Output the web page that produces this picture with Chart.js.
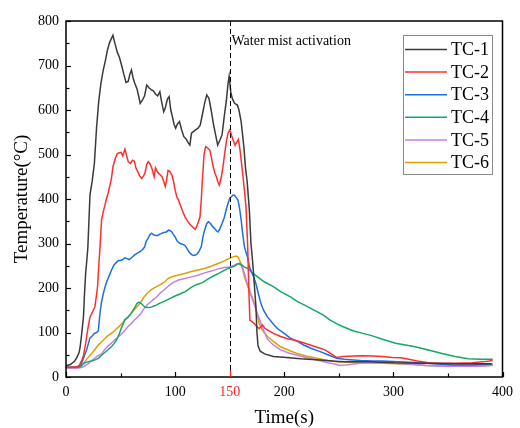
<!DOCTYPE html>
<html><head><meta charset="utf-8">
<script src="https://cdn.jsdelivr.net/npm/chart.js@4/dist/chart.umd.min.js"></script>
<style>html,body{margin:0;padding:0;background:#fff}</style>
</head><body>
<canvas id="c" width="520" height="428"></canvas>
<script>
// ---- data (time s, temperature °C) ----
const seriesNames = ['TC-1','TC-2','TC-3','TC-4','TC-5','TC-6'];
const xTickLabels = [0,100,150,200,300,400];
const yTickLabels = [0,100,200,300,400,500,600,700,800];
const markTime = 150;
const markText = 'Water mist activation';

const tc1 = [[0,25],[4,28],[8,36],[10,44],[12,55],[13,68],[14.5,100],[16,135],[17,190],[18,233],[19,260],[20,290],[21,350],[22,410],[24,440],[26,480],[28,560],[30,620],[32,660],[34,688],[36,710],[38,735],[40,752],[43,768],[45,748],[47,730],[49,718],[51,700],[53,680],[55,662],[57,664],[58.5,680],[60,690],[61.5,672],[63,660],[65,648],[66.5,632],[68,615],[70,622],[72,632],[74,656],[76,650],[78,646],[80,643],[82,636],[84,632],[86,641],[87.5,620],[89.5,596],[91,605],[93,625],[94.5,630],[96,600],[97.5,585],[99,568],[100.5,559],[102,568],[104,574],[106,555],[108,540],[110,535],[112,526],[113.5,521],[115,548],[117,552],[119,556],[121,559],[123,566],[125,590],[127,615],[129,634],[131,626],[133,600],[135,570],[137,545],[139,521],[141,532],[143,544],[145,585],[147,622],[148.5,660],[149.5,676],[151,640],[152.5,625],[154.5,615],[157,611],[158.5,600],[160.5,574],[163,517],[164.5,470],[166,440],[168,375],[169.5,300],[171,260],[172.5,210],[174,160],[175,99],[176,70],[178,58],[182,52],[190,46],[202,44],[215,41],[233,38],[250,35],[257,34],[278,34],[300,32],[330,31],[360,30],[390,30]];
const tc2 = [[0,22],[5,22],[10,23],[12,26],[13,30],[14.5,38],[16,48],[18,75],[19.5,100],[20.5,115],[22,135],[23.5,142],[25,150],[26.5,158],[28,185],[29,205],[30,250],[31,285],[32.6,353],[34,370],[35.6,385],[37,400],[38.6,413],[40,428],[41.6,445],[43,472],[45,490],[47,502],[49,504],[50.5,505],[52,497],[54,512],[55.5,498],[57,484],[59,480],[61,487],[62.7,485],[64,470],[65.8,461],[67.5,452],[69.4,446],[71,452],[72.4,458],[74,478],[75.4,484],[77,479],[78.5,470],[80.8,450],[82,470],[84,460],[86,455],[88,450],[89.5,440],[91,428],[92,440],[93.5,464],[95,462],[97,454],[98.5,440],[100,420],[101.5,405],[103,398],[105,385],[107,372],[109,360],[111,352],[113,345],[115,340],[117,335],[118.5,332],[120,340],[121.5,350],[122.8,360],[124,400],[125,443],[126.5,500],[128,518],[130,514],[131.8,510],[133.5,490],[134.8,473],[136.5,458],[137.8,450],[139,440],[140.5,431],[142.4,450],[144,475],[145.4,502],[147,530],[148.5,548],[150,555],[151.5,545],[153,533],[155,521],[156.5,528],[158,534],[159.5,510],[160.5,488],[162,455],[163.5,420],[165,380],[166.5,293],[167.5,200],[168.5,128],[170,125],[172.6,120],[175,113],[177,109],[180,117],[182,110],[184.6,106],[190,98],[196.7,91],[203,86],[208.8,83],[216,78],[223.8,72],[230,67],[237.4,61],[243,52],[248,44],[254,46],[263,47],[272,48],[281,47],[290,46],[299,44],[307,43],[314,40],[322,36],[332,32],[345,31],[356.6,31],[372,32],[382,34],[391,37]];
const tc3 = [[0,22],[5,22],[10,22],[12,24],[13.5,28],[14.5,32],[16,42],[17.5,52],[19,62],[20.5,75],[22,88],[24,92],[26,98],[28,100],[29.6,104],[31,140],[32.5,168],[34,185],[35.5,200],[37,212],[38.6,222],[40,230],[42,242],[44,252],[46,257],[48,262],[50,262],[52,264],[54,268],[56,266],[58,264],[60,268],[62.7,274],[65,278],[67.5,281],[70,286],[72,292],[73.5,305],[75,311],[77,320],[78.5,323],[80,320],[82,318],[84,318],[86,321],[88,323],[90,325],[92,326],[94,330],[95.6,329],[97,326],[98.5,320],[100,315],[102,305],[104.7,300],[107,298],[109,296],[111,288],[113,280],[115,275],[117,273],[118.5,274],[120,276],[122,283],[124,293],[125.5,315],[127,330],[129,345],[130.5,349],[132,346],[134,339],[136,334],[138,328],[139.4,326],[141,333],[143,345],[145,358],[147,378],[148.5,390],[150,402],[151.5,405],[153,409],[154.5,408],[156,403],[157.5,398],[159,380],[160.5,353],[162,320],[163.5,293],[165,280],[166.5,268],[168,248],[170,236],[172,225],[174,210],[176,190],[178.5,166],[181,150],[184.6,135],[189,122],[193.7,109],[200,98],[205.7,87],[212,80],[217.8,72],[225,64],[232.9,57],[240,50],[248,42],[255,40],[260,39],[270,37],[281,36],[290,36],[300,35],[315,33],[330,31],[340,29],[355,27],[370,27],[380,28],[391,29]];
const tc4 = [[0,22],[5,22],[10,22],[13,23],[15,27],[17.5,32],[20,34],[23.5,36],[26,38],[29.6,42],[32.6,49],[35,54],[38,60],[41.6,68],[44,75],[46,82],[47.7,91],[49,98],[50.7,110],[52,117],[53.7,128],[56.7,134],[59.7,143],[62,152],[63.5,158],[65,165],[66.5,168],[68,167],[69.4,164],[71,160],[72.5,157],[74,156],[76,156],[78,157],[80,159],[82.4,161],[86,166],[90,170],[94,175],[100,182],[105,187],[110,193],[115,202],[120,208],[125,212],[130,220],[135,227],[140,233],[145.4,240],[148.4,244],[151,246],[154.5,249],[157,254],[159,255],[161,252],[163.5,247],[166.5,244],[170,236],[173,230],[175.6,225],[181.6,214],[190,203],[196.7,192],[205.7,180],[211.8,170],[220,160],[226.9,151],[235.9,139],[242,128],[248,120],[254,113],[263,104],[272,98],[280,93],[290,85],[302,76],[311,72],[320,68],[333,60],[344.5,53],[356.6,46],[368.6,41],[380,40],[391,40]];
const tc5 = [[0,20],[5,20],[10,20],[13,21],[16,23],[18,26],[20.5,30],[23,36],[26,42],[29.6,48],[32.6,52],[35,60],[38.6,70],[41.6,76],[44,82],[47.7,90],[50.7,96],[53.7,104],[56.7,113],[59.7,120],[62.7,128],[65.8,135],[68.8,143],[71,152],[74.8,163],[77.8,169],[80,174],[82.4,178],[86,188],[90,196],[94,205],[98,212],[103,218],[108,221],[115,225],[120,228],[127,234],[133,238],[139.4,243],[145,246],[150,247],[154,251],[157.5,255],[160,252],[162,244],[164,228],[166.5,205],[168.5,190],[171,173],[173,160],[175,145],[178,125],[181,105],[184.6,85],[190,72],[196.7,61],[204,54],[211.8,49],[220,44],[229.9,38],[240,32],[246,29],[251,26],[257,27],[263,29],[270,31],[278,32],[290,32],[300,31],[315,29],[330,26],[345,24],[360,24],[375,24],[385,25],[391,27]];
const tc6 = [[0,20],[5,20],[10,20],[12.5,22],[14.5,27],[17,34],[20,43],[23.5,53],[26,60],[29,70],[32.6,79],[35,85],[38,92],[41.6,98],[45,105],[48,112],[52,122],[55,130],[59.7,143],[63,152],[66,160],[68.8,169],[71,178],[74,187],[77.8,196],[80,199],[83,203],[86,207],[90,213],[94,222],[98,226],[103,229],[108,232],[115,237],[120,240],[127,244],[133,249],[139.4,255],[145,261],[150,267],[153,270],[156,272],[157.5,270],[159,263],[161,250],[163.5,225],[166,208],[168,196],[170,183],[172.6,166],[175,143],[177,120],[180,105],[184.6,91],[190,80],[196.7,68],[204,60],[211.8,53],[220,47],[229.9,42],[240,37],[248,34],[260,33],[272,32],[290,31],[310,29],[330,26],[345,25],[360,25],[375,25],[391,26]];

const seriesData = [tc1, tc2, tc3, tc4, tc5, tc6];
const seriesColors = ['#3a3a3a','#ff2e2e','#1c6fe3','#14a866','#c47fe8','#e0a000'];

const SERIF = "'Liberation Serif','Times New Roman',serif";

const decor = {
  id: 'decor',
  afterDatasetsDraw(chart) {
    const {ctx, chartArea: a, scales: {x, y}} = chart;
    ctx.save();
    // dashed activation line
    const xm = Math.round(x.getPixelForValue(markTime)) + 0.5;
    ctx.strokeStyle = '#000'; ctx.lineWidth = 1; ctx.setLineDash([5, 3]);
    ctx.beginPath(); ctx.moveTo(xm, a.top); ctx.lineTo(xm, a.bottom); ctx.stroke();
    ctx.setLineDash([]);
    // frame
    ctx.lineWidth = 1.5; ctx.strokeStyle = '#000';
    ctx.strokeRect(a.left, a.top, a.right - a.left, a.bottom - a.top);
    // inward ticks x
    ctx.lineWidth = 1.2;
    for (let v = x.min; v <= x.max; v += 50) {
      const px = Math.round(x.getPixelForValue(v)) + 0.5;
      let len = (v % 100 === 0) ? 5 : 3.5;
      ctx.strokeStyle = '#000';
      if (v === markTime) { ctx.strokeStyle = '#ff2020'; len = 7; }
      ctx.beginPath(); ctx.moveTo(px, a.bottom); ctx.lineTo(px, a.bottom - len); ctx.stroke();
    }
    ctx.strokeStyle = '#000';
    for (let v = y.min; v <= y.max; v += 50) {
      const py = Math.round(y.getPixelForValue(v)) + 0.5;
      const len = (v % 100 === 0) ? 5 : 3.5;
      ctx.beginPath(); ctx.moveTo(a.left, py); ctx.lineTo(a.left + len, py); ctx.stroke();
    }
    // annotation text
    ctx.fillStyle = '#000';
    ctx.font = '14px ' + SERIF;
    ctx.textAlign = 'left'; ctx.textBaseline = 'middle';
    ctx.fillText(markText, xm + 1, a.top + 20);
    // legend
    const lx = 403.5, ly = 35.5, lw = 89, lh = 139;
    ctx.fillStyle = '#fff'; ctx.fillRect(lx, ly, lw, lh);
    ctx.strokeStyle = '#8a8a8a'; ctx.lineWidth = 1;
    ctx.strokeRect(lx, ly, lw, lh);
    ctx.font = '18px ' + SERIF;
    chart.data.datasets.forEach((ds, i) => {
      const cy = 49.5 + i * 22.6;
      ctx.strokeStyle = ds.borderColor; ctx.lineWidth = 1.5;
      ctx.beginPath(); ctx.moveTo(405, cy); ctx.lineTo(447, cy); ctx.stroke();
      ctx.fillStyle = '#000';
      ctx.fillText(ds.label, 451, cy + 1);
    });
    ctx.restore();
  }
};

new Chart(document.getElementById('c'), {
  type: 'line',
  data: {
    datasets: seriesNames.map((n, i) => ({
      label: n,
      data: seriesData[i].map(p => ({x: p[0], y: p[1]})),
      borderColor: seriesColors[i],
      backgroundColor: seriesColors[i],
      borderWidth: 1.5,
      pointRadius: 0,
      tension: 0,
      fill: false
    }))
  },
  options: {
    responsive: false,
    animation: false,
    devicePixelRatio: 1,
    layout: {padding: {top: 21, right: 12, left: 0, bottom: 0}},
    plugins: {legend: {display: false}, tooltip: {enabled: false}},
    scales: {
      x: {
        type: 'linear', min: 0, max: 400,
        afterFit: s => { s.height = 51; },
        grid: {display: false, drawTicks: false},
        border: {display: false},
        ticks: {
          stepSize: 50, autoSkip: false, maxRotation: 0, padding: 7,
          font: {family: SERIF, size: 14},
          color: c => (c.tick && c.tick.value === markTime) ? '#ff2020' : '#000',
          callback: v => xTickLabels.includes(v) ? String(v) : ''
        },
        title: {display: true, text: 'Time(s)', color: '#000',
          font: {family: SERIF, size: 19, lineHeight: 1}, padding: {top: 0, bottom: 0}}
      },
      y: {
        min: 0, max: 800,
        afterFit: s => { s.width = 66; },
        grid: {display: false, drawTicks: false},
        border: {display: false},
        ticks: {
          stepSize: 100, padding: 7, color: '#000',
          font: {family: SERIF, size: 14},
          callback: v => yTickLabels.includes(v) ? String(v) : ''
        },
        title: {display: true, text: 'Temperature(°C)', color: '#000',
          font: {family: SERIF, size: 19, lineHeight: 1}, padding: {top: 13, bottom: 0}}
      }
    }
  },
  plugins: [decor]
});
</script>
</body></html>
